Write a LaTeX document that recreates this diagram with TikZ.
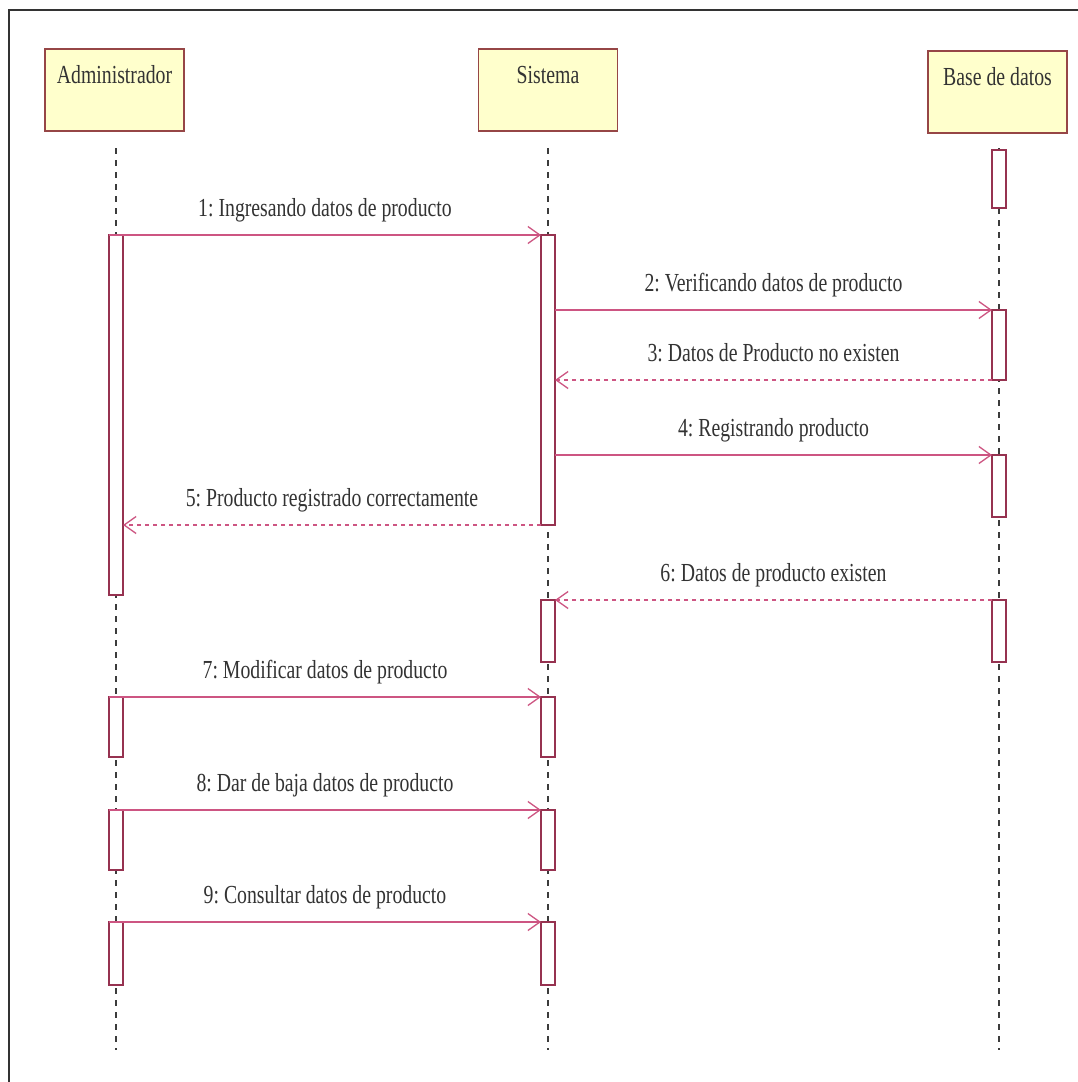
\documentclass[tikz,border=0pt]{standalone}
\usepackage{fontspec}
\setmainfont{Liberation Serif}
\newfontfamily\condfont[FakeStretch=0.76]{Liberation Serif}
\usetikzlibrary{arrows.meta}
\definecolor{msgc}{RGB}{205,85,130}
\definecolor{actc}{RGB}{150,50,80}
\definecolor{hdrfill}{RGB}{255,255,204}
\definecolor{hdrdraw}{RGB}{150,70,70}
\definecolor{lifec}{RGB}{60,60,60}
\frenchspacing
\tikzset{
  hdr/.style={draw=hdrdraw, fill=hdrfill, line width=1.6pt, minimum width=139pt, minimum height=82pt, inner sep=0pt, outer sep=0pt},
  hdrtxt/.style={anchor=base, inner sep=0pt, font=\condfont\fontsize{26}{28}\selectfont, text=black!80},
  life/.style={draw=lifec, line width=1.1pt, dash pattern=on 6pt off 6pt},
  act/.style={draw=actc, fill=white, line width=1.4pt, minimum width=14pt, inner sep=0pt, outer sep=0pt},
  msg/.style={draw=msgc, line width=1.8pt, -{Straight Barb[length=12pt,width=17pt,line width=1.3pt]}},
  ret/.style={msg, dash pattern=on 4pt off 4pt},
  lbl/.style={anchor=base, inner sep=0pt, font=\condfont\fontsize{26}{28}\selectfont, text=black!80, yshift=19pt}
}
\begin{document}
\begin{tikzpicture}[x=1pt,y=-1pt]
\useasboundingbox (0,0) rectangle (1078,1082);
\fill[white] (0,0) rectangle (1078,1082);
% frame
\coordinate (f1) at (9,1082);
\coordinate (f2) at (9,10);
\coordinate (f3) at (1078,10);
\draw[black!80, line width=1.5pt] (f1) -- (f2) -- (f3);
% headers
\node[hdr] (hA) at (114.5,90) {};
\node[hdr] (hS) at (548,90) {};
\node[hdr] (hD) at (997.5,92) {};
\node[hdrtxt] (tA) at (114.5,83) {Administrador};
\node[hdrtxt] (tS) at (548,83) {Sistema};
\node[hdrtxt] (tD) at (997.5,85) {Base de datos};
% lifelines
\coordinate (lA0) at (116,148); \coordinate (lA1) at (116,1050);
\coordinate (lS0) at (548,148); \coordinate (lS1) at (548,1050);
\coordinate (lD0) at (999,148); \coordinate (lD1) at (999,1050);
\draw[life] (lA0) -- (lA1);
\draw[life] (lS0) -- (lS1);
\draw[life] (lD0) -- (lD1);
% activations
\node[act, minimum height=360pt] (aA1) at (116,415) {};
\node[act, minimum height=290pt] (s1) at (548,380) {};
\node[act, minimum height=58pt] (d0) at (999,179) {};
\node[act, minimum height=70pt] (d1) at (999,345) {};
\node[act, minimum height=62pt] (d2) at (999,486) {};
\node[act, minimum height=62pt] (d3) at (999,631) {};
\node[act, minimum height=62pt] (s2) at (548,631) {};
\node[act, minimum height=60pt] (aA2) at (116,727) {};
\node[act, minimum height=60pt] (s3) at (548,727) {};
\node[act, minimum height=60pt] (aA3) at (116,840) {};
\node[act, minimum height=60pt] (s4) at (548,840) {};
\node[act, minimum height=63pt] (aA4) at (116,953.5) {};
\node[act, minimum height=63pt] (s5) at (548,953.5) {};
% messages
\draw[msg] (aA1.north west) -- (s1.north west) node[lbl, midway] {1: Ingresando datos de producto};
\draw[msg] (s1.east |- d1.north) -- (d1.north west) node[lbl, midway] {2: Verificando datos de producto};
\draw[ret] (d1.south west) -- (s1.east |- d1.south) node[lbl, midway] {3: Datos de Producto no existen};
\draw[msg] (s1.east |- d2.north) -- (d2.north west) node[lbl, midway] {4: Registrando producto};
\draw[ret] (s1.south west) -- (aA1.east |- s1.south) node[lbl, midway] {5: Producto registrado correctamente};
\draw[ret] (d3.north west) -- (s2.north east) node[lbl, midway] {6: Datos de producto existen};
\draw[msg] (aA2.north west) -- (s3.north west) node[lbl, midway] {7: Modificar datos de producto};
\draw[msg] (aA3.north west) -- (s4.north west) node[lbl, midway] {8: Dar de baja datos de producto};
\draw[msg] (aA4.north west) -- (s5.north west) node[lbl, midway] {9: Consultar datos de producto};
\end{tikzpicture}
\end{document}
